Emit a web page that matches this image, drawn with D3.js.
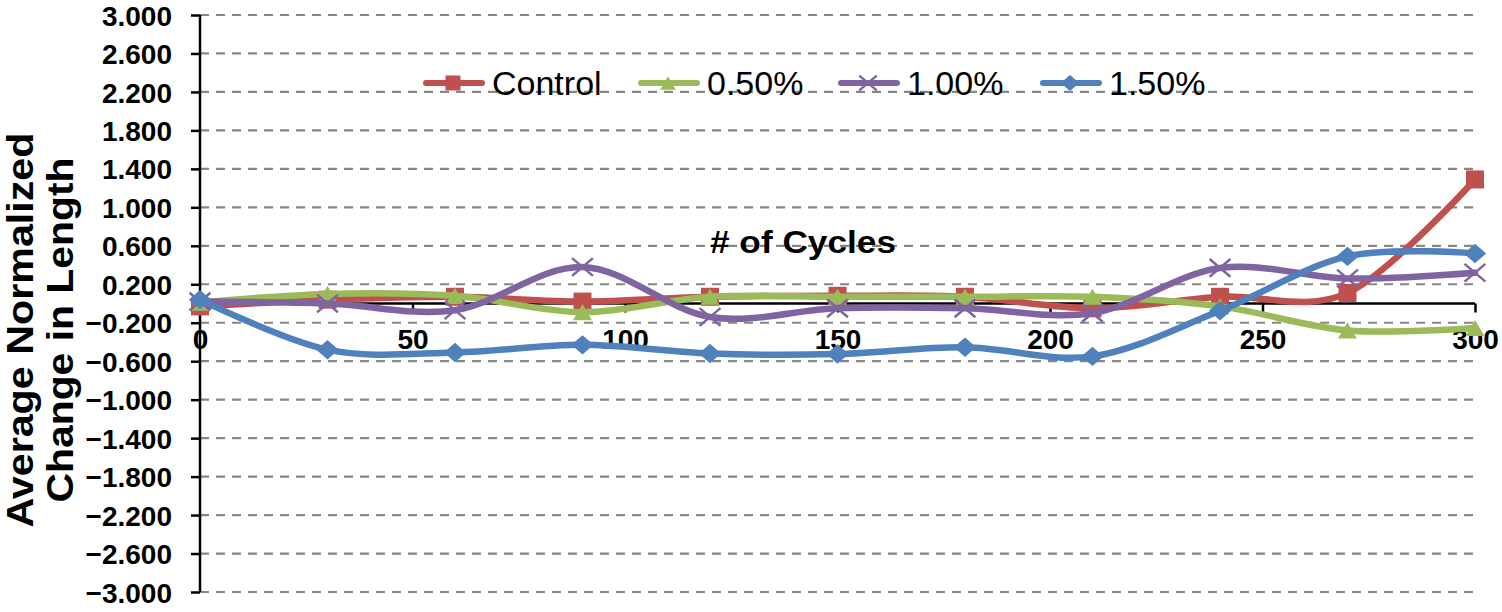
<!DOCTYPE html>
<html><head><meta charset="utf-8">
<script src="https://cdn.jsdelivr.net/npm/d3@7"></script>
<style>body{margin:0;background:#fff;} svg{display:block;}</style>
</head><body>
<svg id="chart" width="1502" height="612"></svg>
<script>
const cycles = [0, 30, 60, 90, 120, 150, 180, 210, 240, 270, 300];
const seriesNames = ["Control", "0.50%", "1.00%", "1.50%"];
const control = [-0.03, 0.04, 0.07, 0.02, 0.07, 0.08, 0.07, -0.05, 0.07, 0.11, 1.29];
const pct050 = [0.01, 0.10, 0.08, -0.09, 0.07, 0.07, 0.07, 0.07, -0.03, -0.28, -0.255];
const pct100 = [0.02, 0.0, -0.07, 0.38, -0.14, -0.05, -0.05, -0.10, 0.37, 0.26, 0.32];
const pct150 = [0.04, -0.48, -0.51, -0.43, -0.52, -0.525, -0.455, -0.55, -0.075, 0.49, 0.52];
const yTicks = [-3.0, -2.6, -2.2, -1.8, -1.4, -1.0, -0.6, -0.2, 0.2, 0.6, 1.0, 1.4, 1.8, 2.2, 2.6, 3.0];
const xTicks = [0, 50, 100, 150, 200, 250, 300];
const colors = ["#C0504D", "#9BBB59", "#8064A2", "#4F81BD"];
const markers = ["square", "triangle", "x", "diamond"];

const FONT = "'Liberation Sans', Arial, sans-serif";
const svg = d3.select("#chart");
const x = d3.scaleLinear().domain([0, 300]).range([200, 1475]);
const y = d3.scaleLinear().domain([-3, 3]).range([592, 15]);

// gridlines
svg.append("g").selectAll("line").data(yTicks).join("line")
  .attr("x1", x(0)).attr("x2", x(300))
  .attr("y1", d => y(d)).attr("y2", d => y(d))
  .attr("stroke", "#878787").attr("stroke-width", 2.2)
  .attr("stroke-dasharray", "9,7");

// y axis
const yAxis = d3.axisLeft(y).tickValues(yTicks).tickSize(9).tickFormat(d3.format(".3f"));
const gy = svg.append("g").attr("transform", `translate(${x(0)},0)`).call(yAxis);
gy.select(".domain").attr("stroke", "#000").attr("stroke-width", 2.5).attr("d", `M0,${y(3)}V${y(-3)}`);
gy.selectAll(".tick line").attr("stroke", "#000").attr("stroke-width", 2.5);
gy.selectAll(".tick text").attr("x", -28).attr("dy", "0.36em")
  .style("font-family", FONT).style("font-size", "28px").style("font-weight", "bold").attr("fill", "#000");

// x axis at y=0
const xAxis = d3.axisBottom(x).tickValues(xTicks).tickSize(9).tickFormat(d3.format("d"));
const gx = svg.append("g").attr("transform", `translate(0,${y(0)})`).call(xAxis);
gx.select(".domain").attr("stroke", "#000").attr("stroke-width", 2.5).attr("d", `M${x(0)},0H${x(300)}`);
gx.selectAll(".tick line").attr("stroke", "#000").attr("stroke-width", 2.5);
gx.selectAll(".tick text").attr("y", 26).attr("dy", "0.71em")
  .style("font-family", FONT).style("font-size", "28px").style("font-weight", "bold").attr("fill", "#000");

// axis titles
svg.append("text").attr("x", 803).attr("y", 253).attr("text-anchor", "middle")
  .attr("textLength", 186).attr("lengthAdjust", "spacingAndGlyphs")
  .style("font-family", FONT).style("font-size", "31px").style("font-weight", "bold").text("# of Cycles");

const yt = svg.append("g").attr("transform", "translate(0,330) rotate(-90)");
yt.append("text").attr("x", 0).attr("y", 33).attr("text-anchor", "middle")
  .attr("textLength", 395).attr("lengthAdjust", "spacingAndGlyphs")
  .style("font-family", FONT).style("font-size", "37px").style("font-weight", "bold").text("Average Normalized");
yt.append("text").attr("x", 0).attr("y", 73).attr("text-anchor", "middle")
  .attr("textLength", 345).attr("lengthAdjust", "spacingAndGlyphs")
  .style("font-family", FONT).style("font-size", "37px").style("font-weight", "bold").text("Change in Length");

function drawMarker(g, type, cx, cy, color, s) {
  if (type === "square") {
    g.append("rect").attr("x", cx - s / 2).attr("y", cy - s / 2).attr("width", s).attr("height", s).attr("fill", color);
  } else if (type === "triangle") {
    const w = s * 1.05, h = s * 0.9;
    g.append("path").attr("d", `M${cx},${cy - h / 2}L${cx + w / 2},${cy + h / 2}L${cx - w / 2},${cy + h / 2}Z`).attr("fill", color);
  } else if (type === "diamond") {
    const w = s * 0.62, h = s * 0.54;
    g.append("path").attr("d", `M${cx},${cy - h}L${cx + w},${cy}L${cx},${cy + h}L${cx - w},${cy}Z`).attr("fill", color);
  } else if (type === "x") {
    const r = s * 0.58;
    g.append("path").attr("d", `M${cx - r},${cy - r * 0.85}L${cx + r},${cy + r * 0.85}M${cx - r},${cy + r * 0.85}L${cx + r},${cy - r * 0.85}`)
      .attr("stroke", color).attr("stroke-width", 2.5).attr("fill", "none");
  }
}

const allSeries = [control, pct050, pct100, pct150];
const line = d3.line().x((d, i) => x(cycles[i])).y(d => y(d)).curve(d3.curveCatmullRom.alpha(0));
allSeries.forEach((vals, si) => {
  const g = svg.append("g");
  g.append("path").attr("d", line(vals)).attr("fill", "none").attr("stroke", colors[si])
    .attr("stroke-width", 6.5).attr("stroke-linejoin", "round").attr("stroke-linecap", "round");
  vals.forEach((v, i) => drawMarker(g, markers[si], x(cycles[i]), y(v), colors[si], 18));
});

// legend
const legendX = [423, 638, 838, 1040];
const lg = svg.append("g");
seriesNames.forEach((name, i) => {
  const lx = legendX[i], ly = 83;
  lg.append("line").attr("x1", lx + 3).attr("x2", lx + 59).attr("y1", ly).attr("y2", ly)
    .attr("stroke", colors[i]).attr("stroke-width", 6).attr("stroke-linecap", "round");
  drawMarker(lg, markers[i], lx + 30, ly, colors[i], 15);
  lg.append("text").attr("x", lx + 69).attr("y", ly + 12)
    .style("font-family", FONT).style("font-size", "34px").attr("fill", "#000").text(name);
});
</script>
</body></html>
